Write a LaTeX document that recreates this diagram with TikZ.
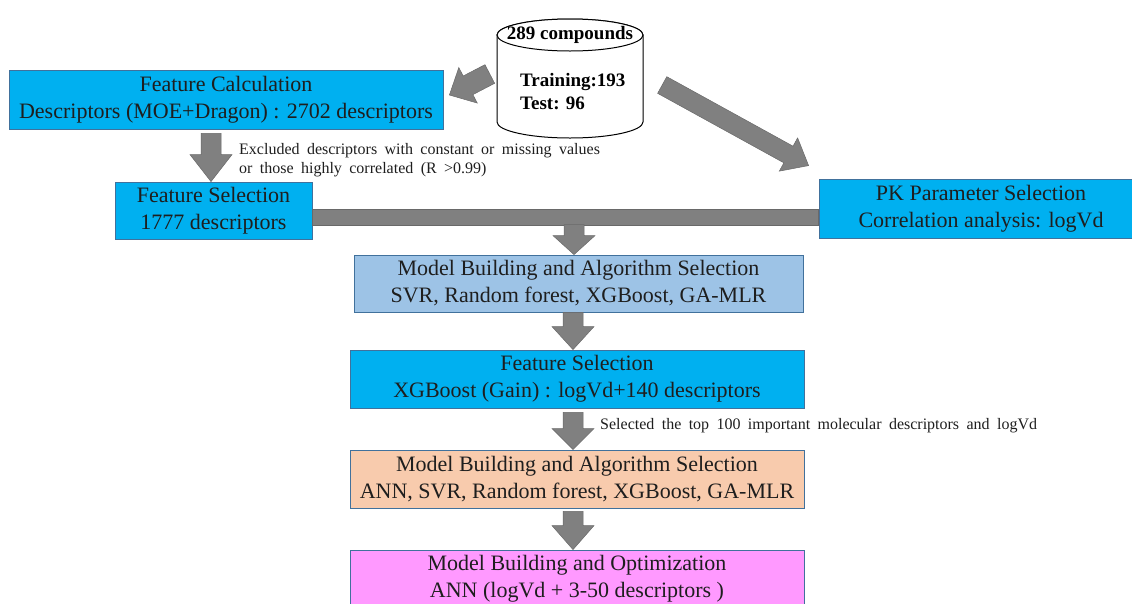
\documentclass[tikz,border=0pt]{standalone}
\usepackage{fontspec}
\setmainfont{Liberation Serif}
\usetikzlibrary{calc}

\definecolor{boxcyan}{RGB}{0,176,240}
\definecolor{boxedge}{RGB}{65,113,156}
\definecolor{boxblue}{RGB}{157,195,230}
\definecolor{boxpeach}{RGB}{248,203,173}
\definecolor{boxpink}{RGB}{255,153,255}
\definecolor{arrowgray}{RGB}{128,128,128}
\definecolor{arrowedge}{RGB}{105,105,105}
\definecolor{inktext}{RGB}{30,30,30}

\protected\def\widespace{\spaceskip=7.4pt\relax}

\tikzset{
  stage/.style={draw=boxedge, line width=0.8pt, inner sep=0pt, align=center,
    text=inktext, font=\fontsize{22}{27}\selectfont},
  blockarrow/.style={fill=arrowgray, draw=arrowedge, line width=0.5pt, line join=miter},
  note/.style={inner sep=0pt, align=left, anchor=west, text=inktext,
    font=\fontsize{16}{19}\selectfont},
  dbtext/.style={inner sep=0pt, text=black, font=\bfseries\fontsize{19}{23}\selectfont},
  dbshape/.style={fill=white, draw=black, line width=1pt}
}

% block arrow: tail, tip, shaft half-width, head half-width, head length
\newcommand\barrow[5]{%
  \coordinate (ba-c) at ($(#2)!#5!(#1)$);
  \draw[blockarrow] ($(#1)!#3!-90:(#2)$) -- ($(ba-c)!#3!-90:(#2)$)
    -- ($(ba-c)!#4!-90:(#2)$) -- (#2) -- ($(ba-c)!#4!90:(#2)$)
    -- ($(ba-c)!#3!90:(#2)$) -- ($(#1)!#3!90:(#2)$) -- cycle;
}

\begin{document}
\begin{tikzpicture}[x=1pt, y=1pt]
\useasboundingbox (0,0) rectangle (1132,-603);
\clip (0,0) rectangle (1132,-603);

% data set cylinder
\node[inner sep=0pt, minimum width=146pt, minimum height=119pt] (db) at (570,-78.5) {};
\draw[dbshape] (497,-35) -- (497,-122)
  arc[start angle=180, end angle=360, x radius=73pt, y radius=16pt]
  -- (643,-35) arc[start angle=0, end angle=180, x radius=73pt, y radius=16pt] -- cycle;
\draw[dbshape] (570,-35) ellipse [x radius=73pt, y radius=16pt];
\node[dbtext] (dbname) at (570,-35) {289 compounds};
\node[dbtext, align=left, anchor=west] (dbsplit) at (520,-91.5) {Training:193\\Test: 96};

% stages
\node[stage, fill=boxcyan, minimum width=434pt, minimum height=59pt] (fc) at (226,-99.5)
  {Feature Calculation\\Descriptors (MOE+Dragon) : 2702 descriptors};
\node[stage, fill=boxcyan, minimum width=197pt, minimum height=57pt] (fs1) at (213.5,-210.5)
  {Feature Selection\\1777 descriptors};
\node[stage, fill=boxcyan, minimum width=324pt, minimum height=59pt] (pk) at (981,-208.5)
  {PK Parameter Selection\\Correlation analysis: logVd};
\node[stage, fill=boxblue, minimum width=449pt, minimum height=57pt] (mb1) at (578.5,-283.5)
  {Model Building and Algorithm Selection\\SVR, Random forest, XGBoost, GA-MLR};
\node[stage, fill=boxcyan, minimum width=454pt, minimum height=58pt] (fs2) at (577,-379)
  {Feature Selection\\XGBoost (Gain) : logVd+140 descriptors};
\node[stage, fill=boxpeach, minimum width=454pt, minimum height=58pt] (mb2) at (577,-479)
  {Model Building and Algorithm Selection\\ANN, SVR, Random forest, XGBoost, GA-MLR};
\node[stage, fill=boxpink, minimum width=454pt, minimum height=58pt] (opt) at (577,-579)
  {Model Building and Optimization\\ANN (logVd + 3-50 descriptors )};

% notes
\node[note] (n1) at (239,-160.5)
  {\widespace Excluded descriptors with constant or missing values\\\widespace or those highly correlated (R >0.99)};
\node[note] (n2) at (600,-426)
  {\widespace Selected the top 100 important molecular descriptors and logVd};

% arrows out of the data set
\coordinate (a1t) at ($(db.west)+(-7,4.5)$);
\coordinate (a1h) at ($(fc.east)+(6,4.5)$);
\barrow{a1t}{a1h}{10.5pt}{20pt}{21pt}
\coordinate (a2t) at ($(db.east)+(19,-6.5)$);
\coordinate (a2h) at ($(pk.north west)+(-10,13)$);
\barrow{a2t}{a2h}{9.5pt}{19pt}{23pt}

% feature calculation to feature selection
\coordinate (a3t) at ($(fc.south)+(-15,-4)$);
\coordinate (a3h) at ($(fs1.north)+(-2.5,0)$);
\barrow{a3t}{a3h}{10pt}{21pt}{27pt}

% merging bar
\draw[blockarrow] ($(fs1.east)+(0,1.5)$) coordinate (barl) rectangle ($(pk.west)+(0,-16.5)$) coordinate (barr);
\coordinate (a4t) at ($(mb1.north)+(-4.5,30)$);
\coordinate (a4h) at ($(mb1.north)+(-4.5,0)$);
\barrow{a4t}{a4h}{10pt}{21pt}{19pt}

% main column
\coordinate (a5t) at ($(mb1.south)+(-5.5,0)$);
\coordinate (a5h) at ($(fs2.north)+(-4,0)$);
\barrow{a5t}{a5h}{10pt}{21pt}{23pt}
\coordinate (a6t) at ($(fs2.south)+(-4,-4)$);
\coordinate (a6h) at ($(mb2.north)+(-4,0)$);
\barrow{a6t}{a6h}{10pt}{21pt}{21pt}
\coordinate (a7t) at ($(mb2.south)+(-4,-3)$);
\coordinate (a7h) at ($(opt.north)+(-4,0)$);
\barrow{a7t}{a7h}{10pt}{21pt}{24pt}
\end{tikzpicture}
\end{document}
